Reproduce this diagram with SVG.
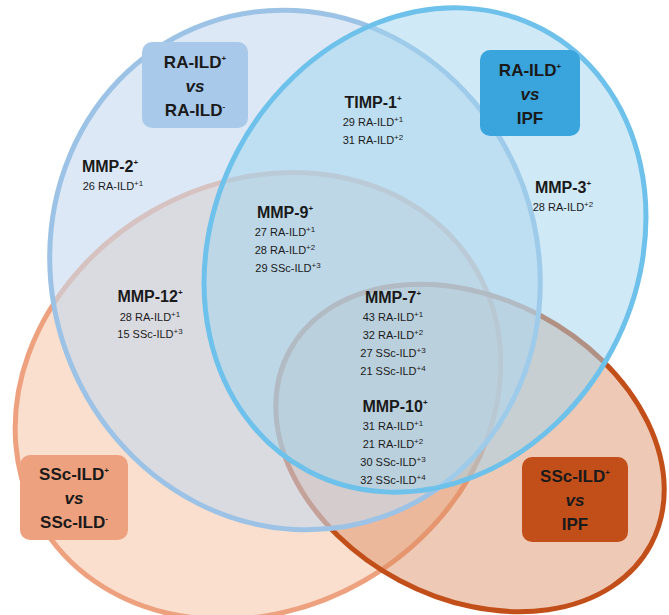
<svg xmlns="http://www.w3.org/2000/svg" width="669" height="615" viewBox="0 0 669 615">
<style>
text{font-family:"Liberation Sans",Arial,sans-serif;fill:#1a1a1a;text-anchor:middle}
.h{font-weight:bold;font-size:16px}
.b{font-weight:bold;font-size:17px}
.s{font-size:11px}
.sup{font-size:8px}
</style>
<rect width="669" height="615" fill="#fff"/>
<g id="connectors"></g>
<g id="set-ssc">
<ellipse cx="258" cy="396" rx="252" ry="213" transform="rotate(-30 258 396)" fill="#f7c9ad" fill-opacity="0.6" stroke="#eea17e" stroke-width="5"/>
</g>
<g id="set-sscipf">
<ellipse cx="470" cy="448" rx="205" ry="150" transform="rotate(28 470 448)" fill="#d9895e" fill-opacity="0.45" stroke="#c24f1a" stroke-width="5"/>
</g>
<g id="set-ra">
<ellipse cx="295" cy="270" rx="243" ry="262" transform="rotate(-20 295 270)" fill="#c4d9ef" fill-opacity="0.6" stroke="#9cc3e6" stroke-width="5"/>
</g>
<g id="set-raipf">
<ellipse cx="425" cy="250" rx="212" ry="250" transform="rotate(28 425 250)" fill="#9fd3ee" fill-opacity="0.5" stroke="#6dc1ea" stroke-width="5"/>
</g>
<g id="box-ra"><rect x="142" y="42" width="106" height="86" rx="10" fill="#a9c9ea"/>
<text class="b" x="195" y="68">RA-ILD<tspan class="sup" dy="-7">+</tspan></text>
<text class="b" x="195" y="92" font-style="italic">vs</text>
<text class="b" x="195" y="116">RA-ILD<tspan class="sup" dy="-7">-</tspan></text></g>
<g id="box-raipf"><rect x="480" y="50" width="100" height="86" rx="10" fill="#3aa4dc"/>
<text class="b" x="530" y="76">RA-ILD<tspan class="sup" dy="-7">+</tspan></text>
<text class="b" x="530" y="100" font-style="italic">vs</text>
<text class="b" x="530" y="124">IPF</text></g>
<g id="box-ssc"><rect x="20" y="455" width="108" height="85" rx="10" fill="#eea17e"/>
<text class="b" x="74" y="480">SSc-ILD<tspan class="sup" dy="-7">+</tspan></text>
<text class="b" x="74" y="504" font-style="italic">vs</text>
<text class="b" x="74" y="528">SSc-ILD<tspan class="sup" dy="-7">-</tspan></text></g>
<g id="box-sscipf"><rect x="522" y="457" width="106" height="85" rx="10" fill="#c24f1a"/>
<text class="b" x="575" y="482">SSc-ILD<tspan class="sup" dy="-7">+</tspan></text>
<text class="b" x="575" y="506" font-style="italic">vs</text>
<text class="b" x="575" y="530">IPF</text></g>
<g id="timp1"><text class="h" x="373" y="108">TIMP-1<tspan class="sup" dy="-7">+</tspan></text>
<text class="s" x="373" y="126">29 RA-ILD<tspan class="sup" dy="-4">+1</tspan></text>
<text class="s" x="373" y="144">31 RA-ILD<tspan class="sup" dy="-4">+2</tspan></text></g>
<g id="mmp2"><text class="h" x="110" y="172">MMP-2<tspan class="sup" dy="-7">+</tspan></text>
<text class="s" x="113" y="190">26 RA-ILD<tspan class="sup" dy="-4">+1</tspan></text></g>
<g id="mmp3"><text class="h" x="563" y="193">MMP-3<tspan class="sup" dy="-7">+</tspan></text>
<text class="s" x="563" y="211">28 RA-ILD<tspan class="sup" dy="-4">+2</tspan></text></g>
<g id="mmp9"><text class="h" x="285" y="218">MMP-9<tspan class="sup" dy="-7">+</tspan></text>
<text class="s" x="285" y="236">27 RA-ILD<tspan class="sup" dy="-4">+1</tspan></text>
<text class="s" x="285" y="254">28 RA-ILD<tspan class="sup" dy="-4">+2</tspan></text>
<text class="s" x="288" y="272">29 SSc-ILD<tspan class="sup" dy="-4">+3</tspan></text></g>
<g id="mmp12"><text class="h" x="150" y="302">MMP-12<tspan class="sup" dy="-7">+</tspan></text>
<text class="s" x="150" y="321">28 RA-ILD<tspan class="sup" dy="-4">+1</tspan></text>
<text class="s" x="150" y="338">15 SSc-ILD<tspan class="sup" dy="-4">+3</tspan></text></g>
<g id="mmp7"><text class="h" x="393" y="303">MMP-7<tspan class="sup" dy="-7">+</tspan></text>
<text class="s" x="393" y="321">43 RA-ILD<tspan class="sup" dy="-4">+1</tspan></text>
<text class="s" x="393" y="339">32 RA-ILD<tspan class="sup" dy="-4">+2</tspan></text>
<text class="s" x="393" y="357">27 SSc-ILD<tspan class="sup" dy="-4">+3</tspan></text>
<text class="s" x="393" y="375">21 SSc-ILD<tspan class="sup" dy="-4">+4</tspan></text></g>
<g id="mmp10"><text class="h" x="395" y="412">MMP-10<tspan class="sup" dy="-7">+</tspan></text>
<text class="s" x="393" y="430">31 RA-ILD<tspan class="sup" dy="-4">+1</tspan></text>
<text class="s" x="393" y="448">21 RA-ILD<tspan class="sup" dy="-4">+2</tspan></text>
<text class="s" x="393" y="466">30 SSc-ILD<tspan class="sup" dy="-4">+3</tspan></text>
<text class="s" x="393" y="484">32 SSc-ILD<tspan class="sup" dy="-4">+4</tspan></text></g>
</svg>
